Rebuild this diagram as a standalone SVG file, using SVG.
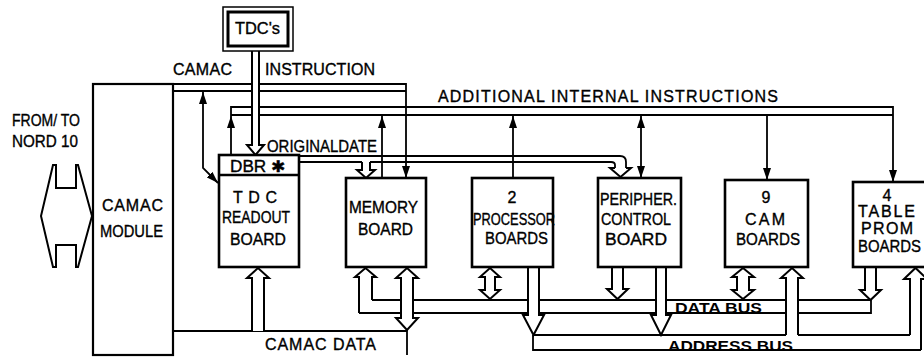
<svg xmlns="http://www.w3.org/2000/svg" width="924" height="359" viewBox="0 0 924 359">
<defs>
<style>
.box{fill:#fff;stroke:#000;stroke-width:2.6}
.mod{fill:none;stroke:#000;stroke-width:2.2}
.ln{fill:none;stroke:#000;stroke-width:1.8}
.ha{fill:#fff;stroke:#000;stroke-width:2;stroke-linejoin:miter}
.t{font-family:"Liberation Sans",Arial,sans-serif;font-size:16px;fill:#000;stroke:#000;stroke-width:0.35}
.c{text-anchor:middle}
.b{font-weight:bold;font-size:15px;stroke-width:0}
</style>
<marker id="ah" viewBox="0 0 12 8" refX="12" refY="4" markerWidth="12" markerHeight="8" markerUnits="userSpaceOnUse" orient="auto-start-reverse">
<path d="M0,0 L12,4 L0,8 z" fill="#000"/>
</marker>
</defs>
<rect width="924" height="359" fill="#fff"/>

<g id="connectors">
<path class="ln" d="M173,84 H406 V178" marker-end="url(#ah)"/>
<path class="ln" d="M173,91 H406"/>
<path class="ln" d="M203,92 V168 L218,183" marker-start="url(#ah)" marker-end="url(#ah)"/>
<path class="ln" d="M231,116 V107 H893 V182" marker-end="url(#ah)"/>
<path class="ln" d="M231,115 H893"/>
<path class="ln" d="M231,155 V116" marker-end="url(#ah)"/>
<path class="ln" d="M382,178 V116" marker-end="url(#ah)"/>
<path class="ln" d="M513,178 V116" marker-end="url(#ah)"/>
<path class="ln" d="M641,116 V178" marker-start="url(#ah)" marker-end="url(#ah)"/>
<path class="ln" d="M767,115 V180" marker-end="url(#ah)"/>
<path class="ha" d="M252,51 V145 H247 L255.5,155 L264,145 H259 V51"/>
<path class="ln" d="M300,156 H620 C624,156 626,158 626,162 V168"/>
<path class="ln" d="M300,162 H362 M370,162 H611 C613,162 615,163 615,165 V168"/>
<path class="ha" d="M615,168 H610 L620.5,177 L631,168 H626"/>
<path class="ha" d="M362,162 V170 H357 L366,178 L375,170 H370 V162"/>
<path class="ln" d="M173,331 H407 V355"/>
<path class="ln" d="M372,300 H871"/>
<path class="ln" d="M359,313 H871 V300"/>
<path class="ln" d="M533,335 V350 H921"/>
<path class="ln" d="M533,335 H786 M798,335 H910"/>
<path class="ha" d="M252,331 V278 H247 L258,268 L269,278 H264 V331"/>
<path class="ha" d="M372,300 V277 H376 L365.5,268 L355,277 H359 V313"/>
<path class="ha" d="M401,278 H396 L407,268 L418,278 H413 V318 H418 L407,330 L396,318 H401 Z"/>
<path class="ha" d="M485,277 H480 L490,268 L500,277 H495 V290 H500 L490,299 L480,290 H485 Z"/>
<path class="ha" d="M528,267 V315 H523 L533.5,335 L544,315 H539 V267"/>
<path class="ha" d="M612,267 V289 H607 L617.5,299 L628,289 H623 V267"/>
<path class="ha" d="M656,267 V315 H651 L661,335 L671,315 H666 V267"/>
<path class="ha" d="M737,277 H732 L743,268 L754,277 H749 V290 H754 L743,299 L732,290 H737 Z"/>
<path class="ha" d="M786,335 V278 H781 L792,268 L803,278 H798 V335"/>
<path class="ha" d="M865,267 V290 H860 L870.5,300 L881,290 H876 V267"/>
<path class="ha" d="M910,335 V279 H904 L915.5,268 L927,279 H921 V350"/>
</g>

<g id="from-to">
<path class="ha" d="M53,165 H56 V188 H76 V165 H78 L92,216 L78,267 H76 V245 H56 V267 H53 L41,216 Z"/>
<text class="t" x="12" y="126" textLength="68" lengthAdjust="spacingAndGlyphs">FROM/ TO</text>
<text class="t" x="12" y="147" textLength="66" lengthAdjust="spacingAndGlyphs">NORD 10</text>
</g>

<g id="camac-module">
<rect class="mod" x="93" y="84" width="80" height="271"/>
<text class="t" x="102" y="211" textLength="61" lengthAdjust="spacing">CAMAC</text>
<text class="t" x="100" y="237" textLength="63" lengthAdjust="spacingAndGlyphs">MODULE</text>
</g>

<g id="tdcs">
<rect x="223" y="7" width="70" height="44" fill="#fff" stroke="#000" stroke-width="1.5"/>
<rect x="228" y="12" width="60" height="34" fill="#fff" stroke="#000" stroke-width="3"/>
<text class="t" x="235" y="34" textLength="45" lengthAdjust="spacingAndGlyphs">TDC's</text>
</g>

<g id="tdc-readout">
<rect class="box" x="219" y="155" width="80" height="112"/>
<line x1="219" y1="175" x2="299" y2="175" stroke="#000" stroke-width="2.6"/>
<text class="t" x="230" y="172" textLength="55" lengthAdjust="spacingAndGlyphs">DBR ✱</text>
<text class="t" x="233" y="203" textLength="44" lengthAdjust="spacing">TDC</text>
<text class="t" x="222" y="223" textLength="68" lengthAdjust="spacingAndGlyphs">READOUT</text>
<text class="t" x="230" y="245" textLength="56" lengthAdjust="spacingAndGlyphs">BOARD</text>
</g>

<g id="memory">
<rect class="box" x="346" y="178" width="80" height="89"/>
<text class="t" x="349" y="213" textLength="69" lengthAdjust="spacingAndGlyphs">MEMORY</text>
<text class="t" x="358" y="235" textLength="55" lengthAdjust="spacingAndGlyphs">BOARD</text>
</g>

<g id="processor">
<rect class="box" x="472" y="178" width="81" height="89"/>
<text class="t c" x="512" y="203">2</text>
<text class="t" x="473" y="225" textLength="82" lengthAdjust="spacingAndGlyphs">PROCESSOR</text>
<text class="t" x="485" y="244" textLength="63" lengthAdjust="spacingAndGlyphs">BOARDS</text>
</g>

<g id="peripher">
<rect class="box" x="598" y="178" width="83" height="89"/>
<text class="t" x="600" y="205" textLength="77" lengthAdjust="spacingAndGlyphs">PERIPHER.</text>
<text class="t" x="601" y="225" textLength="70" lengthAdjust="spacingAndGlyphs">CONTROL</text>
<text class="t" x="605" y="245" textLength="62" lengthAdjust="spacingAndGlyphs">BOARD</text>
</g>

<g id="cam">
<rect class="box" x="725" y="180" width="83" height="87"/>
<text class="t c" x="766" y="203">9</text>
<text class="t" x="745" y="225" textLength="40" lengthAdjust="spacing">CAM</text>
<text class="t" x="736" y="245" textLength="64" lengthAdjust="spacingAndGlyphs">BOARDS</text>
</g>

<g id="table-prom">
<rect class="box" x="853" y="182" width="80" height="85"/>
<text class="t c" x="887" y="201">4</text>
<text class="t" x="858" y="217" textLength="57" lengthAdjust="spacing">TABLE</text>
<text class="t" x="861" y="234" textLength="52" lengthAdjust="spacing">PROM</text>
<text class="t" x="858" y="252" textLength="63" lengthAdjust="spacingAndGlyphs">BOARDS</text>
</g>

<g id="labels">
<text class="t" x="173" y="75" textLength="59" lengthAdjust="spacing">CAMAC</text>
<text class="t" x="265" y="75" textLength="110" lengthAdjust="spacing">INSTRUCTION</text>
<text class="t" x="438" y="102" textLength="340" lengthAdjust="spacing">ADDITIONAL INTERNAL INSTRUCTIONS</text>
<text class="t" x="267" y="152" textLength="110" lengthAdjust="spacingAndGlyphs">ORIGINALDATE</text>
<text class="t" x="265" y="350" textLength="111" lengthAdjust="spacing">CAMAC DATA</text>
<text class="t b" x="675" y="313" textLength="87" lengthAdjust="spacingAndGlyphs">DATA BUS</text>
<text class="t b" x="668" y="351" textLength="125" lengthAdjust="spacingAndGlyphs">ADDRESS BUS</text>
</g>
</svg>
